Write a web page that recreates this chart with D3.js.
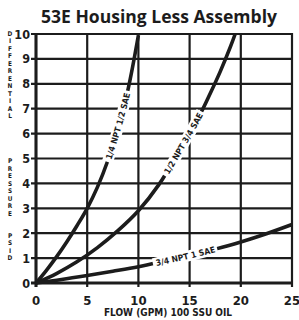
<!DOCTYPE html>
<html lang="en">
<head>
<meta charset="UTF-8">
<title>53E Housing Less Assembly</title>
<script src="https://cdn.jsdelivr.net/npm/d3@7"></script>
<style>
    body { margin: 0; background: #fff; }
    svg { display: block; }
    .cond { font-family: "Liberation Sans Narrow", "DejaVu Sans Condensed", "DejaVu Sans", sans-serif; font-stretch: condensed; font-weight: bold; }
</style>
</head>
<body>
<div id="chart"></div>
<script>
// flow (GPM) vs differential pressure (PSID)
var flow1 = [0, 1, 2, 3, 4, 5, 6, 7, 8, 9, 10];
var psid1 = [0, 0.5, 1.05, 1.65, 2.3, 3.0, 3.85, 4.9, 6.2, 7.8, 9.95];

var flow2 = [0, 2, 4, 6, 8, 10, 12, 14, 16, 17, 18, 19, 19.45];
var psid2 = [0, 0.38, 0.85, 1.42, 2.1, 2.9, 3.95, 5.3, 6.75, 7.6, 8.5, 9.5, 10.0];

var flow3 = [0, 2.5, 5, 7.5, 10, 12.5, 15, 17.5, 20, 22.5, 25];
var psid3 = [0, 0.14, 0.3, 0.47, 0.65, 0.87, 1.1, 1.36, 1.65, 1.98, 2.35];

var labels = ["1/4 NPT  1/2 SAE", "1/2 NPT  3/4 SAE", "3/4 NPT  1 SAE"];
var xTicks = [0, 5, 10, 15, 20, 25];
var yTicks = [0, 1, 2, 3, 4, 5, 6, 7, 8, 9, 10];
var yTitle = "DIFFERENTIAL     PRESSURE  PSID";
var xTitle = "FLOW (GPM) 100 SSU OIL";
var title = "53E Housing Less Assembly";

var W = 299, H = 320;
var ink = "#1c1c1c";

var svg = d3.select("#chart").append("svg")
    .attr("width", W)
    .attr("height", H);

var x = d3.scaleLinear().domain([0, 25]).range([36, 292]);
var y = d3.scaleLinear().domain([0, 10]).range([283, 34]);

// title
svg.append("text")
    .attr("x", 159).attr("y", 23)
    .attr("text-anchor", "middle")
    .style("font-family", "'Open Sans', sans-serif")
    .style("font-weight", "bold")
    .style("font-size", "18px")
    .attr("textLength", 236)
    .attr("lengthAdjust", "spacingAndGlyphs")
    .attr("fill", ink)
    .text(title);

// grid
var grid = svg.append("g").attr("stroke", ink).attr("stroke-width", 2.2);
grid.selectAll("line.h").data(yTicks).enter().append("line")
    .attr("x1", 31).attr("x2", x(25) + 1)
    .attr("y1", function (d) { return y(d); })
    .attr("y2", function (d) { return y(d); });
grid.selectAll("line.v").data(xTicks).enter().append("line")
    .attr("y1", y(10) - 1).attr("y2", 287)
    .attr("x1", function (d) { return x(d); })
    .attr("x2", function (d) { return x(d); });

// heavier axis lines
svg.append("line").attr("x1", x(0)).attr("x2", x(0)).attr("y1", y(10) - 1).attr("y2", 287)
    .attr("stroke", ink).attr("stroke-width", 3);
svg.append("line").attr("x1", 31).attr("x2", x(25) + 1).attr("y1", y(0)).attr("y2", y(0))
    .attr("stroke", ink).attr("stroke-width", 3);

// tick labels
svg.selectAll("text.yt").data(yTicks).enter().append("text")
    .attr("class", "cond")
    .attr("x", 30)
    .attr("y", function (d) { return y(d) + 4.5; })
    .attr("text-anchor", "end")
    .style("font-size", "12.5px")
    .attr("fill", ink)
    .text(function (d) { return d; });

svg.selectAll("text.xt").data(xTicks).enter().append("text")
    .attr("class", "cond")
    .attr("x", function (d) { return x(d); })
    .attr("y", 305)
    .attr("text-anchor", "middle")
    .style("font-size", "13px")
    .attr("fill", ink)
    .text(function (d) { return d; });

svg.append("text")
    .attr("class", "cond")
    .attr("x", 168).attr("y", 316)
    .attr("text-anchor", "middle")
    .style("font-size", "10px")
    .attr("fill", ink)
    .text(xTitle);

// stacked y title, one letter per row
svg.selectAll("text.ytl").data(yTitle.split("").map(function (c, i) { return { c: c, i: i }; })
        .filter(function (d) { return d.c !== " "; }))
    .enter().append("text")
    .attr("class", "cond")
    .attr("x", 10)
    .attr("y", function (d) { return 36 + d.i * 7.48; })
    .attr("text-anchor", "middle")
    .style("font-size", "6.4px")
    .attr("fill", ink)
    .text(function (d) { return d.c; });

// curves
var line = d3.line()
    .x(function (d) { return x(d[0]); })
    .y(function (d) { return y(d[1]); })
    .curve(d3.curveCatmullRom.alpha(0.5));

var series = [
    { flow: flow1, psid: psid1, label: labels[0], at: function (p) { return p[1] < y(6.3); } },
    { flow: flow2, psid: psid2, label: labels[1], at: function (p) { return p[1] < y(5.6); } },
    { flow: flow3, psid: psid3, label: labels[2], at: function (p) { return p[0] > x(14.6); } }
];

series.forEach(function (s, k) {
    var pts = s.flow.map(function (f, i) { return [f, s.psid[i]]; });
    var path = svg.append("path")
        .attr("id", "curve" + k)
        .attr("d", line(pts))
        .attr("fill", "none")
        .attr("stroke", ink)
        .attr("stroke-width", 3.6);

    var node = path.node();
    var total = node.getTotalLength();
    // find label middle along the path
    var lo = 0, hi = total;
    for (var n = 0; n < 40; n++) {
        var mid = (lo + hi) / 2;
        var p = node.getPointAtLength(mid);
        if (s.at([p.x, p.y])) hi = mid; else lo = mid;
    }
    var L = (lo + hi) / 2;

    var t = svg.append("text")
        .attr("class", "cond")
        .style("font-size", "8.5px")
        .attr("fill", ink)
        .attr("dominant-baseline", "central");
    t.append("textPath")
        .attr("href", "#curve" + k)
        .attr("startOffset", L)
        .attr("text-anchor", "middle")
        .text(s.label);
    var tl = t.node().getComputedTextLength();

    // white band behind the label
    var a = L - tl / 2 - 3, b = L + tl / 2 + 3, band = [];
    for (var d = a; d <= b; d += 1) {
        var q = node.getPointAtLength(d);
        band.push([q.x, q.y]);
    }
    svg.insert("path", "#curve" + k + " ~ text")
        .attr("d", d3.line()(band))
        .attr("fill", "none")
        .attr("stroke", "#fff")
        .attr("stroke-width", 11);
    t.raise();
});
</script>
</body>
</html>
